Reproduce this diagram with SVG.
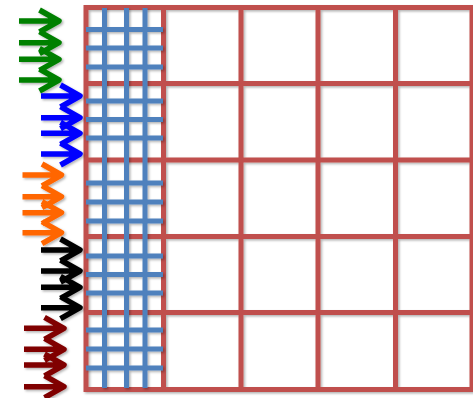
<svg xmlns="http://www.w3.org/2000/svg" width="473" height="398" viewBox="0 0 473 398">
<defs>
<filter id="sh" x="-10%" y="-10%" width="120%" height="120%">
<feDropShadow dx="1.5" dy="1.5" stdDeviation="1.2" flood-color="#000" flood-opacity="0.3"/>
</filter>
<style>
.red{stroke:#C0504D;stroke-width:5;fill:none}
.blu{stroke:#4F81BD;stroke-width:5;fill:none}
.arr{stroke-width:5.5;fill:none;stroke-linejoin:round}
</style>
</defs>
<rect width="473" height="398" fill="#fff"/>
<g id="grid" class="red" filter="url(#sh)">
<rect x="86" y="7.5" width="386" height="382"/>
<path d="M163.5 7.5V389.5M241 7.5V389.5M318 7.5V389.5M395.5 7.5V389.5M86 83.5H472M86 160H472M86 236.5H472M86 312.5H472"/>
</g>
<g id="mesh" class="blu" filter="url(#sh)">
<path d="M104.5 8V388M126.5 8V388M145 8V388"/>
<path d="M86 29.5H163M86 48H163M86 67H163M86 101H163M86 119.5H163M86 138H163M86 183H163M86 202H163M86 221H163M86 256H163M86 274.5H163M86 293H163M86 330H163M86 349H163M86 368H163"/>
</g>
<g id="arrows" class="arr" filter="url(#sh)">
<g id="green" stroke="#008000">
<path d="M19 21H57M39.5 10L59 21L39.5 32M19 42.7H57M39.5 31.7L59 42.7L39.5 53.7M19 59.3H57M39.5 48.3L59 59.3L39.5 70.3M19 80H57M39.5 69L59 80L39.5 91"/>
</g>
<g id="blue" stroke="#0000FF">
<path d="M41 96H78M60.5 85L80 96L60.5 107M41 117.7H78M60.5 106.7L80 117.7L60.5 128.7M41 133.3H78M60.5 122.3L80 133.3L60.5 144.3M41 154H78M60.5 143L80 154L60.5 165"/>
</g>
<g id="orange" stroke="#FF6600">
<path d="M22.5 175H59.5M42 164L61.5 175L42 186M22.5 196.7H59.5M42 185.7L61.5 196.7L42 207.7M22.5 212.7H59.5M42 201.7L61.5 212.7L42 223.7M22.5 232.7H59.5M42 221.7L61.5 232.7L42 243.7"/>
</g>
<g id="black" stroke="#000000">
<path d="M41 250H78M60.5 239L80 250L60.5 261M41 271H78M60.5 260L80 271L60.5 282M41 287.3H78M60.5 276.3L80 287.3L60.5 298.3M41 307.7H78M60.5 296.7L80 307.7L60.5 318.7"/>
</g>
<g id="darkred" stroke="#800000">
<path d="M24 328.3H62M44.5 317.3L64 328.3L44.5 339.3M24 349.3H62M44.5 338.3L64 349.3L44.5 360.3M24 365H62M44.5 354L64 365L44.5 376M24 386.7H62M44.5 375.7L64 386.7L44.5 397.7"/>
</g>
</g>
</svg>
